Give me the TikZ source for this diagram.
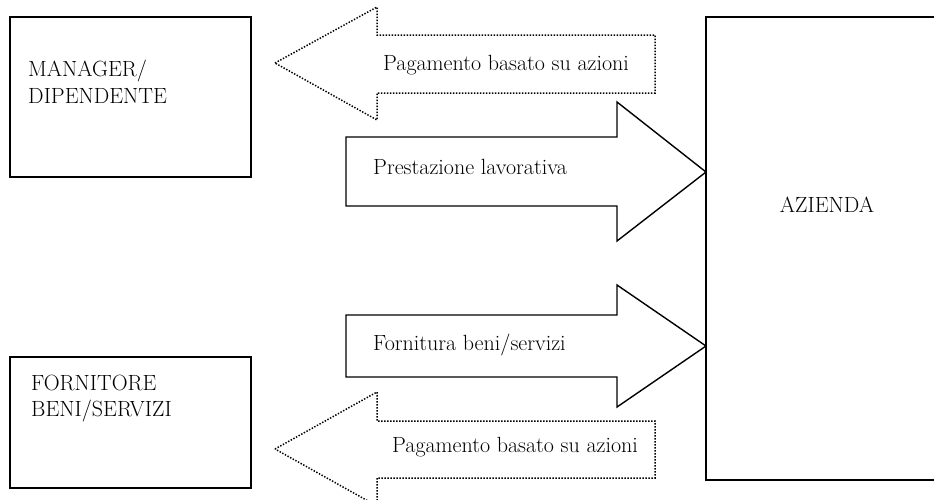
\documentclass[tikz,border=0pt]{standalone}
\usetikzlibrary{positioning}

\begin{document}
\begin{tikzpicture}
[
x=1pt, y=-1pt,
box-a/.style={draw, line width=1.2pt},
arrow-a/.style={draw, line width=1.4pt, line join=miter},
arrow-b/.style={draw, line width=1.5pt, dash pattern=on 1.4pt off 1.6pt},
text-a/.style={anchor=base west, inner sep=0pt, font=\fontsize{22}{26}\selectfont}
]
\useasboundingbox (0,0) rectangle (934,499);
\clip (0,0) rectangle (934,499);
% boxes
\draw [box-a] (10,17)  rectangle (251,177);
\draw [box-a] (10,357) rectangle (251,488);
\draw [box-a] (706,17) rectangle (945,480);
\coordinate (azienda-in1) at (706,172);
\coordinate (azienda-in2) at (706,346);
\node (manager-l1)   [text-a] at (28,76)  {MANAGER/};
\node (manager-l2)   [text-a] at (28,103) {DIPENDENTE};
\node (fornitore-l1) [text-a] at (31,390) {FORNITORE};
\node (fornitore-l2) [text-a] at (31,416) {BENI/SERVIZI};
\node (azienda-lb)   [text-a, anchor=base] at (827,212) {AZIENDA};
% arrows
\draw [arrow-a] (346,137) -- (617,137) -- (617,102) -- (azienda-in1) -- (617,241) -- (617,206) -- (346,206) -- cycle;
\draw [arrow-a] (346,315) -- (617,315) -- (617,285) -- (azienda-in2) -- (617,407) -- (617,377) -- (346,377) -- cycle;
\draw [arrow-b] (275,63)  -- (377,7)   -- (377,35)  -- (655,35)  -- (655,93)  -- (377,93)  -- (377,120) -- cycle;
\draw [arrow-b] (275,449) -- (377,392) -- (377,421) -- (655,421) -- (655,478) -- (377,478) -- (377,506) -- cycle;
\node (lavoro-lb)   [text-a] at (373,174) {Prestazione lavorativa};
\node (fornitura-lb)[text-a] at (373,350) {Fornitura beni/servizi};
\node (paga-lb1)    [text-a] at (383,70)  {Pagamento basato su azioni};
\node (paga-lb2)    [text-a] at (392,452) {Pagamento basato su azioni};
\end{tikzpicture}
\end{document}
